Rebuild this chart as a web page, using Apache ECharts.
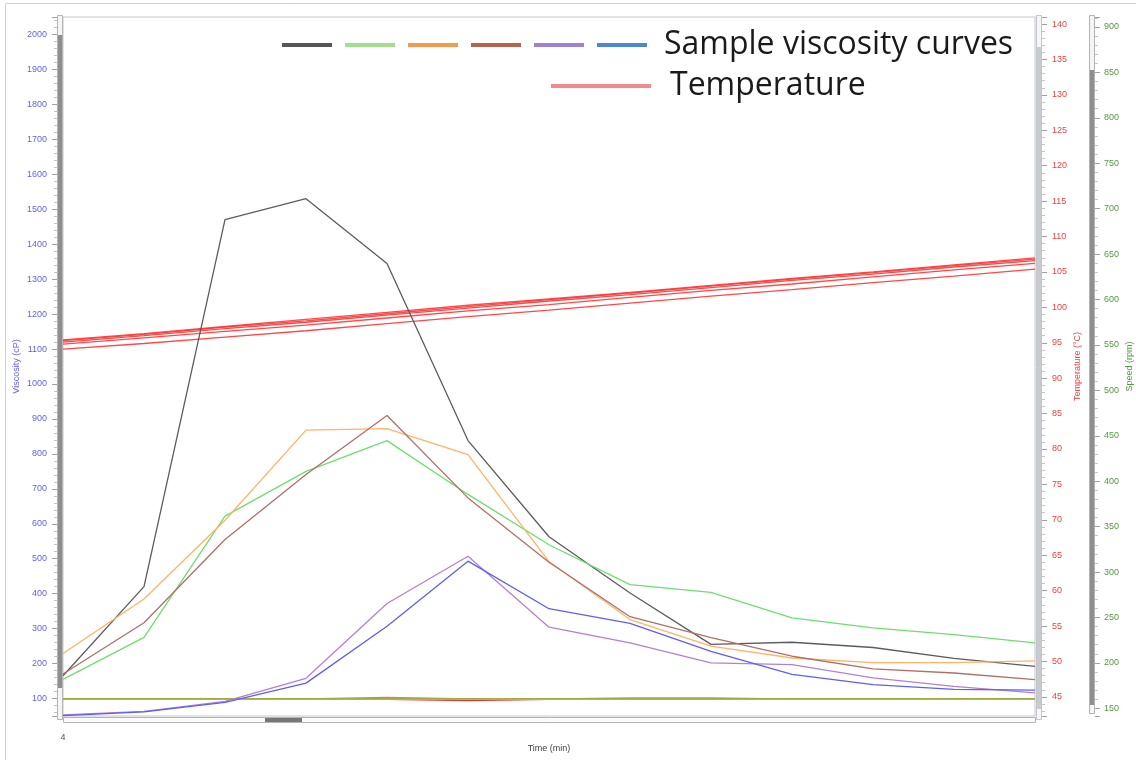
<!DOCTYPE html>
<html>
<head>
<meta charset="utf-8">
<script src="https://cdn.jsdelivr.net/npm/echarts/dist/echarts.min.js"></script>
<style>
  html, body { margin: 0; padding: 0; background: #ffffff; }
  #chart { width: 1136px; height: 760px; }
</style>
</head>
<body>
<div id="chart"></div>
<script>
// Time points (min)
const times = [4, 5, 6, 7, 8, 9, 10, 11, 12, 13, 14, 15, 16];

// Viscosity curves (cP), one per sample
const sample1 = [165, 420, 1470, 1530, 1345, 838, 563, 402, 255, 261, 246, 215, 192];
const sample2 = [155, 275, 622, 750, 838, 684, 540, 426, 404, 331, 302, 283, 259];
const sample3 = [229, 385, 610, 868, 872, 798, 492, 326, 250, 216, 203, 203, 208];
const sample4 = [170, 317, 555, 741, 910, 674, 490, 334, 274, 221, 185, 173, 154];
const sample5 = [53, 63, 92, 158, 372, 507, 304, 259, 202, 197, 159, 135, 116];
const sample6 = [51, 62, 89, 144, 307, 493, 357, 315, 235, 169, 140, 126, 124];

// Temperature traces (°C)
const temp1 = [95.4, 96.3, 97.3, 98.3, 99.3, 100.3, 101.2, 102.1, 103.1, 104.1, 105.0, 106.0, 107.0];
const temp2 = [95.3, 96.2, 97.2, 98.1, 99.1, 100.1, 101.1, 102.0, 103.0, 104.0, 104.9, 105.9, 106.8];
const temp3 = [95.1, 96.0, 97.0, 97.9, 98.9, 99.9, 100.9, 101.8, 102.8, 103.8, 104.7, 105.7, 106.6];
const temp4 = [94.8, 95.7, 96.6, 97.5, 98.5, 99.5, 100.4, 101.4, 102.4, 103.3, 104.3, 105.3, 106.2];
const temp5 = [94.1, 94.9, 95.8, 96.7, 97.7, 98.7, 99.6, 100.6, 101.6, 102.5, 103.5, 104.4, 105.4];

// Spindle speed traces (rpm)
const speed1 = [160, 160, 160, 160, 160, 158.6, 160, 160.8, 160.8, 160, 160, 160, 160];
const speed2 = [160, 160, 160, 160, 161.8, 160, 160, 160, 160, 160, 160, 160, 160];
const speed3 = [160, 160, 160, 160, 160, 160, 160, 160, 160, 160, 160, 160, 160];
const speed4 = [160, 160, 160, 160, 160, 160, 160, 160, 160, 160, 160, 160, 160];

const sampleNames = ['Sample 1', 'Sample 2', 'Sample 3', 'Sample 4', 'Sample 5', 'Sample 6'];
const sampleData = [sample1, sample2, sample3, sample4, sample5, sample6];
const lineColors = ['#5c5c5c', '#6ede6e', '#ffb366', '#b07068', '#b57fd2', '#5e5ef2'];
const legendColors = ['#555555', '#a6dc8e', '#f59a4c', '#b5634a', '#9b82d8', '#4a88d6'];

const tempData = [temp1, temp2, temp3, temp4, temp5];
const speedData = [speed1, speed2, speed3, speed4];
const speedColors = ['#e03838', '#ff5fae', '#a0582e', '#96c83c'];

const VISC = '#6262ee', TEMP = '#ee4141', SPEED = '#4f9a3f';
const labelFont = 'Liberation Sans';
const plain = v => String(v);

const series = [];
speedData.forEach((d, i) => series.push({
  name: 'Speed ' + (i + 1), type: 'line', yAxisIndex: 2, data: d,
  showSymbol: false, silent: true,
  lineStyle: { color: speedColors[i], width: 1.8 }
}));
tempData.forEach(d => series.push({
  name: 'Temperature', type: 'line', yAxisIndex: 1, data: d,
  showSymbol: false, silent: true,
  itemStyle: { color: '#ff3434' },
  lineStyle: { color: '#ff3434', width: 1.3, opacity: 0.9 }
}));
sampleData.forEach((d, i) => series.push({
  name: sampleNames[i], type: 'line', yAxisIndex: 0, data: d,
  showSymbol: false, silent: true,
  itemStyle: { color: lineColors[i] },
  lineStyle: { color: lineColors[i], width: 1.3 }
}));

// window chrome: pane frame and the axis scroll bars
const box = (x, y, w, h, fill, stroke) => ({
  type: 'rect', silent: true, z: 10,
  shape: { x: x, y: y, width: w, height: h },
  style: { fill: fill, stroke: stroke || null, lineWidth: 1 }
});
const chrome = [
  box(5.5, 3.5, 1140, 770, 'none', '#c9d4df'),
  // viscosity scroll bar
  box(57.5, 15.5, 5, 704, '#f5f5f5', '#b4b4b4'),
  box(58, 35, 4, 653, '#8e8e8e'),
  // temperature scroll bar
  box(1036.5, 15.5, 5, 704, '#f4f6f8', '#c2c6ca'),
  box(1037, 47, 4, 662, '#c7cbd0'),
  // speed scroll bar
  box(1089.5, 15.5, 5, 698, '#f5f5f5', '#b4b4b4'),
  box(1090, 70, 4, 635, '#8e8e8e'),
  // time scroll bar
  box(63.5, 717.5, 972, 5, '#fbfbfb', '#b4b4b4'),
  box(265, 718, 37, 4, '#777777')
];

const legendText = { fontFamily: 'Open Sans', fontSize: 32, color: '#1a1a1a' };

const option = {
  animation: false,
  backgroundColor: '#ffffff',
  grid: {
    left: 63, right: 101, top: 17, bottom: 44, show: true,
    borderColor: '#c6c6c6', borderWidth: 1, outerBoundsMode: 'none', containLabel: false
  },
  legend: [
    {
      left: 282, top: 29, padding: 0, icon: 'rect', itemWidth: 50, itemHeight: 4, itemGap: 13,
      selectedMode: false,
      data: sampleNames.map((n, i) => i === 5
        ? { name: n, itemStyle: { color: legendColors[i] }, textStyle: { padding: [0, 0, 0, 12] } }
        : { name: n, itemStyle: { color: legendColors[i] } }),
      formatter: n => n === 'Sample 6' ? 'Sample viscosity curves' : '',
      textStyle: legendText
    },
    {
      left: 551, top: 70, padding: 0, icon: 'rect', itemWidth: 100, itemHeight: 4,
      selectedMode: false,
      data: [{ name: 'Temperature', itemStyle: { color: '#f38b8e' }, textStyle: { padding: [0, 0, 0, 14] } }],
      textStyle: legendText
    }
  ],
  xAxis: {
    type: 'category', data: times, boundaryGap: false,
    axisLine: { show: false }, axisTick: { show: false }, splitLine: { show: false },
    axisLabel: { interval: (i) => i === 0, color: '#555', fontSize: 9, fontFamily: labelFont, margin: 17 },
    name: 'Time (min)', nameLocation: 'middle', nameGap: 28, nameMoveOverlap: false,
    nameTextStyle: { color: '#444', fontSize: 9, fontFamily: labelFont }
  },
  yAxis: [
    {
      type: 'value', position: 'left', min: 50, max: 2050, splitNumber: 20, offset: 6,
      axisLine: { show: false }, splitLine: { show: false },
      axisTick: { show: true, length: 5, lineStyle: { color: '#a0a0a0' } },
      minorTick: { show: true, splitNumber: 5, length: 3, lineStyle: { color: '#c4c4c4' } },
      axisLabel: { color: VISC, fontSize: 9, fontFamily: labelFont, margin: 10, formatter: plain, showMinLabel: false, showMaxLabel: false },
      name: 'Viscosity (cP)', nameLocation: 'middle', nameGap: 36, nameMoveOverlap: false,
      nameTextStyle: { color: VISC, fontSize: 9, fontFamily: labelFont }
    },
    {
      type: 'value', position: 'right', min: 42.3, max: 141, splitNumber: 20, offset: 7,
      axisLine: { show: false }, splitLine: { show: false },
      axisTick: { show: true, length: 5, lineStyle: { color: '#a0a0a0' } },
      minorTick: { show: true, splitNumber: 5, length: 3, lineStyle: { color: '#c4c4c4' } },
      axisLabel: { color: TEMP, fontSize: 9, fontFamily: labelFont, margin: 10, formatter: plain, showMinLabel: false, showMaxLabel: false },
      name: 'Temperature (°C)', nameLocation: 'middle', nameGap: 31, nameMoveOverlap: false,
      nameTextStyle: { color: TEMP, fontSize: 9, fontFamily: labelFont }
    },
    {
      type: 'value', position: 'right', min: 141.5, max: 911, splitNumber: 15, offset: 60,
      axisLine: { show: false }, splitLine: { show: false },
      axisTick: { show: true, length: 5, lineStyle: { color: '#a0a0a0' } },
      minorTick: { show: true, splitNumber: 5, length: 3, lineStyle: { color: '#c4c4c4' } },
      axisLabel: { color: SPEED, fontSize: 9, fontFamily: labelFont, margin: 9, formatter: plain, showMinLabel: false, showMaxLabel: false },
      name: 'Speed (rpm)', nameLocation: 'middle', nameGap: 30, nameMoveOverlap: false,
      nameTextStyle: { color: SPEED, fontSize: 9, fontFamily: labelFont }
    }
  ],
  graphic: chrome,
  series: series
};

const chart = echarts.init(document.getElementById('chart'), null, { renderer: 'canvas' });
chart.setOption(option);
</script>
</body>
</html>
